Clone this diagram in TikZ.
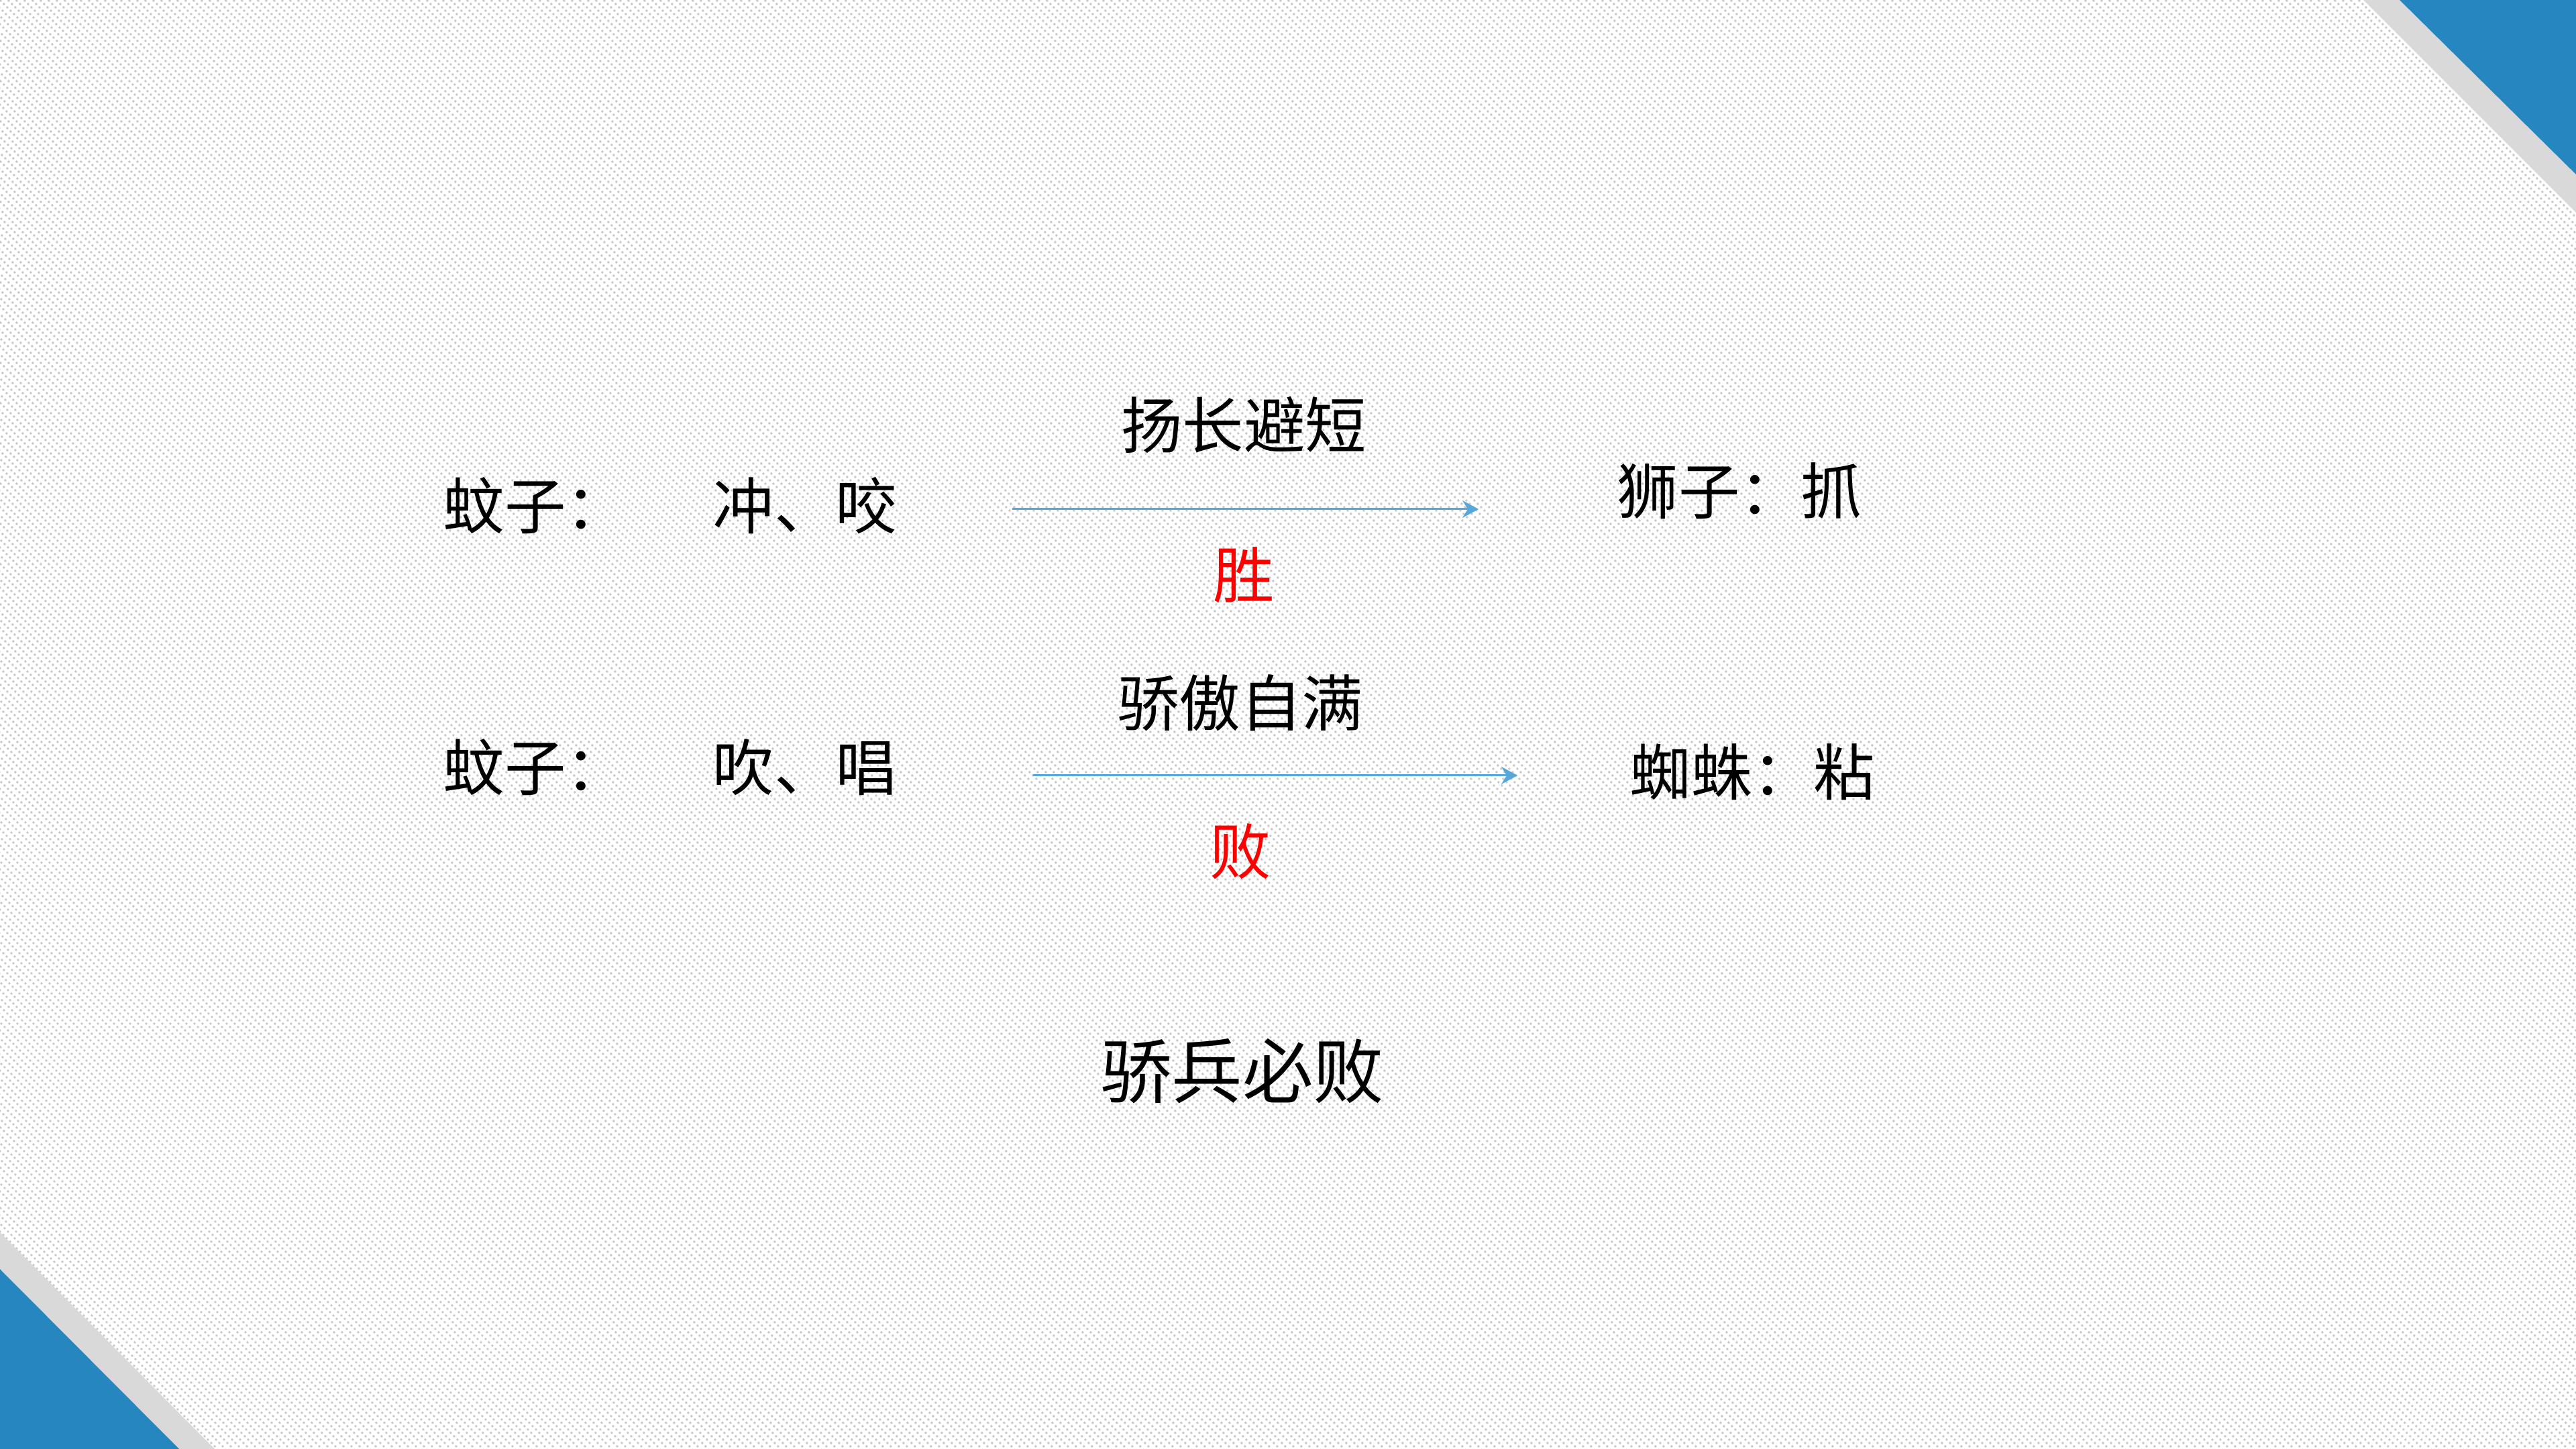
\documentclass[tikz,border=0pt]{standalone}
\usepackage{fontspec}
\newfontfamily\cjk{Noto Sans CJK SC}
\usetikzlibrary{arrows.meta, positioning}
\definecolor{cornerblue}{RGB}{37,134,192}
\definecolor{cornergray}{RGB}{217,217,217}
\definecolor{arrowblue}{RGB}{86,168,218}
\definecolor{dotgray}{RGB}{200,200,200}

\begin{document}
\begin{tikzpicture}[
      t/.style={font=\cjk\fontsize{26pt}{30pt}\selectfont, inner sep=0pt},
      r/.style={t, text=red},
      big/.style={font=\cjk\fontsize{30pt}{34pt}\selectfont, inner sep=0pt},
      link/.style={arrowblue, line width=0.03cm, -{Stealth[length=0.24cm, width=0.26cm, inset=0.08cm]}},
      bgdots/.style={dotgray, line width=0.028cm, dash pattern=on 0.02828cm off 0.04243cm},
    ]
      % background
      \useasboundingbox (0,0) rectangle (38.4,21.6);
      \fill[white] (0,0) rectangle (38.4,21.6);
      \begin{scope}
        \clip (0,0) rectangle (38.4,21.6);
        \foreach \i in {0,...,500} {\draw[bgdots] (\i*0.12-21.6,21.6) -- ++(21.6,-21.6);}
      \end{scope}
      \fill[cornergray] (35.23,21.6) -- (38.4,21.6) -- (38.4,18.43) -- cycle;
      \fill[cornerblue] (35.77,21.6) -- (38.4,21.6) -- (38.4,19.00) -- cycle;
      \fill[cornergray] (0,3.23) -- (0,0) -- (3.20,0) -- cycle;
      \fill[cornerblue] (0,2.68) -- (0,0) -- (2.67,0) -- cycle;
      % first row
      \node[t, anchor=west] (m1) at (6.6,14.06) {蚊子：};
      \node[t, anchor=west] (a1) at (10.62,14.06) {冲、咬};
      \coordinate (s1) at (15.09,14.01);
      \coordinate (e1) at (22.04,14.01);
      \draw[link] (s1) -- (e1);
      \node[t] (u1) at (18.54,15.26) {扬长避短};
      \node[r] (w1) at (18.54,13.03) {胜};
      \node[t, anchor=west] (l1) at (24.1,14.28) {狮子：抓};
      % second row
      \node[t, anchor=west] (m2) at (6.6,10.16) {蚊子：};
      \node[t, anchor=west] (a2) at (10.62,10.16) {吹、唱};
      \coordinate (s2) at (15.40,10.04);
      \coordinate (e2) at (22.62,10.04);
      \draw[link] (s2) -- (e2);
      \node[t] (u2) at (18.49,11.12) {骄傲自满};
      \node[r] (w2) at (18.49,8.91) {败};
      \node[t, anchor=west] (l2) at (24.29,10.09) {蜘蛛：粘};
      % moral
      \node[big] (moral) at (18.52,5.63) {骄兵必败};
    \end{tikzpicture}
\end{document}
